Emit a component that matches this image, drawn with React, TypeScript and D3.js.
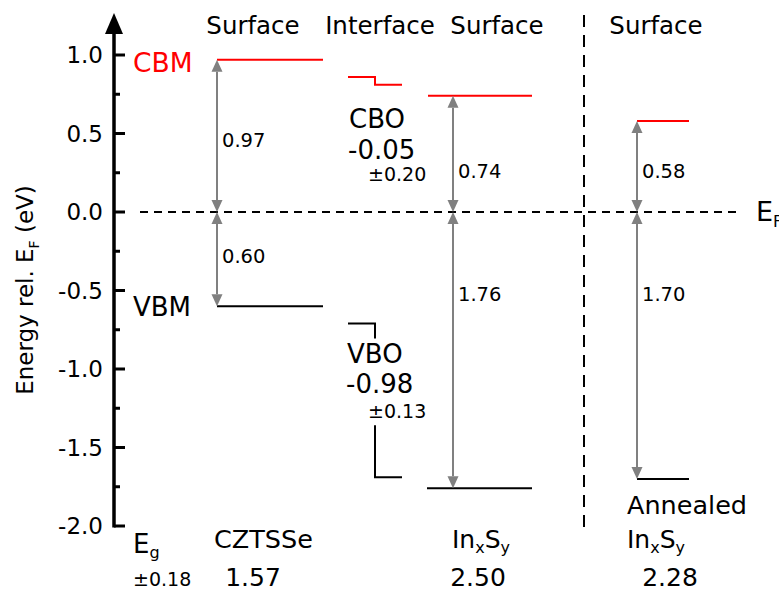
import React from "react";
import * as d3 from "d3";

// energies in eV relative to E_F
const yTicks = [1.0, 0.5, 0.0, -0.5, -1.0, -1.5, -2.0];
const yMinor = [0.75, 0.25, -0.25, -0.75, -1.25, -1.75];
const headers = ["Surface", "Interface", "Surface", "Surface"];

const cbm = [0.97, 0.74, 0.58];
const vbm = [-0.6, -1.76, -1.7];
const cbLabels = ["0.97", "0.74", "0.58"];
const vbLabels = ["0.60", "1.76", "1.70"];
const cbLabelE = [0.46, 0.26, 0.26];
const vbLabelE = [-0.28, -0.52, -0.52];
const gaps = ["1.57", "2.50", "2.28"];

const cboSteps = [0.86, 0.81];
const vboSteps = [-0.71, -1.69];

const W = 779;
const H = 592;
const FONT = "DejaVu Sans, Verdana, sans-serif";
const GREY = "#808080";

const y = d3.scaleLinear().domain([-2, 1]).range([526, 55]);
const axisX = 114;

// column layout: [levelStart, levelEnd, arrowX]
const cols: [number, number, number][] = [
  [217, 323, 217],
  [428, 532, 453],
  [637, 689, 637],
];
const headerX = [253, 380, 497, 656];
const gapX = [253, 478, 670];

function Arrow({ x, y1, y2 }: { x: number; y1: number; y2: number }) {
  // double-headed vertical arrow
  const hw = 5.5;
  const hl = 12;
  const dir = y2 > y1 ? 1 : -1;
  return (
    <g>
      <line x1={x} x2={x} y1={y1 + dir * hl} y2={y2 - dir * hl} stroke={GREY} strokeWidth={2} />
      <path d={`M${x},${y1} L${x - hw},${y1 + dir * hl} L${x + hw},${y1 + dir * hl} Z`} fill={GREY} />
      <path d={`M${x},${y2} L${x - hw},${y2 - dir * hl} L${x + hw},${y2 - dir * hl} Z`} fill={GREY} />
    </g>
  );
}

function InS({ x, yy }: { x: number; yy: number }) {
  return (
    <text x={x} y={yy} fontSize={25}>
      In<tspan fontSize={16} dy={5}>x</tspan>
      <tspan dy={-5}>S</tspan>
      <tspan fontSize={16} dy={5}>y</tspan>
    </text>
  );
}

export default function App() {
  const ef = y(0);
  const ix = [348, 375, 402];
  return (
    <svg width={W} height={H} style={{ display: "block", position: "absolute", left: 0, top: 0 }} fontFamily={FONT}>
      <rect width={W} height={H} fill="#fff" />

      {/* y axis */}
      <line x1={axisX} x2={axisX} y1={y(-2) + 1.5} y2={30} stroke="#000" strokeWidth={3.5} />
      <path d={`M${axisX},13 L${axisX - 9},34 L${axisX + 9},34 Z`} fill="#000" />
      {yTicks.map((t) => (
        <g key={t}>
          <line x1={axisX} x2={axisX + 11} y1={y(t)} y2={y(t)} stroke="#000" strokeWidth={3} />
          <text x={103} y={y(t) + 8} fontSize={23} textAnchor="end">
            {d3.format(".1f")(t).replace("−", "-")}
          </text>
        </g>
      ))}
      {yMinor.map((t) => (
        <line key={t} x1={axisX} x2={axisX + 6} y1={y(t)} y2={y(t)} stroke="#000" strokeWidth={3} />
      ))}
      <text transform={`translate(33,290) rotate(-90)`} fontSize={23} textAnchor="middle">
        Energy rel. E<tspan fontSize={14} dy={6}>F</tspan>
        <tspan dy={-6}> (eV)</tspan>
      </text>

      {/* headers */}
      {headers.map((h, i) => (
        <text key={i} x={headerX[i]} y={34} fontSize={24.5} textAnchor="middle">
          {h}
        </text>
      ))}

      {/* Fermi level and separator */}
      <line x1={140} x2={742} y1={ef} y2={ef} stroke="#000" strokeWidth={2} strokeDasharray="8,6" />
      <text x={756} y={221} fontSize={27}>
        E<tspan fontSize={16} dy={6}>F</tspan>
      </text>
      <line x1={584} x2={584} y1={15} y2={530} stroke="#000" strokeWidth={2} strokeDasharray="12,8" />

      {/* band levels */}
      {cols.map(([a, b, ax], i) => (
        <g key={i}>
          <line x1={a} x2={b} y1={y(cbm[i])} y2={y(cbm[i])} stroke="#ff0000" strokeWidth={2} />
          <line x1={a - (i === 1 ? 1 : 0)} x2={b} y1={y(vbm[i])} y2={y(vbm[i])} stroke="#000" strokeWidth={2} />
          <Arrow x={ax} y1={y(cbm[i])} y2={ef} />
          <Arrow x={ax} y1={ef} y2={y(vbm[i])} />
          <text x={ax + 5} y={y(cbLabelE[i]) + 7} fontSize={19.5}>
            {cbLabels[i]}
          </text>
          <text x={ax + 5} y={y(vbLabelE[i]) + 7} fontSize={19.5}>
            {vbLabels[i]}
          </text>
        </g>
      ))}

      <text x={133} y={72} fontSize={26.5} fill="#ff0000">CBM</text>
      <text x={133} y={316} fontSize={26}>VBM</text>

      {/* interface offsets */}
      <path
        d={`M${ix[0]},${y(cboSteps[0])} H${ix[1]} V${y(cboSteps[1])} H${ix[2]}`}
        fill="none"
        stroke="#ff0000"
        strokeWidth={2}
      />
      <path d={`M${ix[0]},${y(vboSteps[0])} H${ix[1]} V${y(vboSteps[0]) + 15}`} fill="none" stroke="#000" strokeWidth={2} />
      <path d={`M${ix[1]},${y(vboSteps[1]) - 52} V${y(vboSteps[1])} H${ix[2]}`} fill="none" stroke="#000" strokeWidth={2} />

      <text x={349} y={128} fontSize={26}>CBO</text>
      <text x={348} y={159} fontSize={26}>-0.05</text>
      <text x={368} y={181} fontSize={19}>±0.20</text>
      <text x={347} y={363} fontSize={26}>VBO</text>
      <text x={346} y={393} fontSize={26}>-0.98</text>
      <text x={368} y={418} fontSize={19}>±0.13</text>

      {/* band gaps */}
      <text x={133} y={553} fontSize={26}>
        E<tspan fontSize={16} dy={5}>g</tspan>
      </text>
      <text x={133} y={586} fontSize={19}>±0.18</text>

      <text x={214} y={548} fontSize={25.5}>CZTSSe</text>
      <InS x={452} yy={548} />
      <text x={627} y={514} fontSize={25.5}>Annealed</text>
      <InS x={627} yy={548} />
      {gaps.map((g, i) => (
        <text key={i} x={gapX[i]} y={586} fontSize={25} textAnchor="middle">
          {g}
        </text>
      ))}
    </svg>
  );
}
